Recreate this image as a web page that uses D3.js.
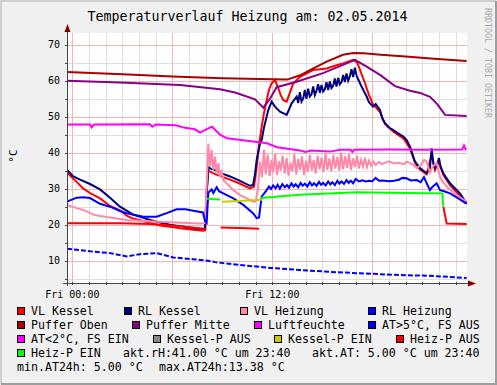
<!DOCTYPE html>
<html><head><meta charset="utf-8">
<script src="https://cdn.jsdelivr.net/npm/d3@7"></script>
<style>body{margin:0;background:#f0f0f0}svg{display:block}text{font-family:"DejaVu Sans Mono",monospace}</style>
</head><body><svg id="c" width="497" height="385"></svg>
<script>
const title = "Temperaturverlauf Heizung am: 02.05.2014";
const yLabel = "°C";
const watermark = "RRDTOOL / TOBI OETIKER";
const yTicks = [10,20,30,40,50,60,70];
const xTickHours = [0,12];
const xTickLabels = ["Fri 00:00","Fri 12:00"];
// time in hours since Fri 00:00, value in °C
const vlKessel = [[-0.32,34.5],[0.0,33.0],[0.26,31.9],[0.66,30.0],[1.06,28.8],[1.66,27.3],[2.26,25.2],[2.86,24.0],[3.26,22.5],[3.64,21.7],[4.26,21.0],[4.66,20.5],[5.26,19.8],[5.86,19.4],[6.46,19.0],[7.26,18.6],[7.84,18.3],[7.96,18.4],[8.06,30],[8.16,35.0],[8.5,34.2],[9.0,33.3],[9.46,32.5],[10.0,31.5],[10.66,30.1],[10.9,30.5],[11.06,36],[11.2,42],[11.36,47.2],[11.5,51],[11.66,54.6],[11.8,57.5],[11.96,59.3],[12.16,60.2],[12.36,57.9],[12.5,56],[12.66,54.6],[12.86,54.2],[13.0,56],[13.26,59.3],[13.66,61.1],[14.46,63.0],[15.26,63.4],[15.8,64.2],[16.24,64.8],[16.86,65.8],[17.1,65],[17.26,63.0],[17.56,59.3],[17.8,56],[18.04,53.5],[18.46,51.3],[18.76,48],[19.26,45.8],[19.86,44.0],[20.26,41.2],[20.56,37.2],[20.86,35.3],[21.26,34.0],[21.56,39.5],[21.76,35.2],[22.0,37.5],[22.26,33.8],[22.66,31.0],[23.06,29.0],[23.46,27],[23.66,26.2]];
const rlKessel = [[-0.32,35.2],[0.06,33.4],[0.46,32.5],[1.06,31.3],[1.66,29.8],[2.26,27.5],[2.86,25.0],[3.26,23.9],[3.64,22.8],[4.26,21.9],[4.66,21.3],[5.26,20.6],[5.86,20.0],[6.46,19.6],[7.26,19.1],[7.84,18.8],[7.96,19],[8.06,28],[8.16,36.0],[8.3,35.5],[8.5,35.3],[9.0,34.2],[9.46,33.4],[10.0,32.3],[10.66,30.8],[10.84,31],[10.96,34],[11.06,38],[11.26,42.6],[11.36,43.5],[11.5,47],[11.76,51.9],[11.96,54.2],[12.16,52.8],[12.46,51.4],[12.86,50.5],[13.16,53.7],[13.46,55.6],[13.55,53.8],[13.65,56.8],[13.75,54.2],[13.85,55.0],[13.95,57.4],[14.05,55.0],[14.15,57.8],[14.25,55.6],[14.35,56.2],[14.45,58.4],[14.55,56.0],[14.65,57.2],[14.75,59.0],[14.85,56.6],[14.95,58.8],[15.05,57.0],[15.15,57.6],[15.25,59.6],[15.35,57.4],[15.45,59.8],[15.55,58.0],[15.65,58.6],[15.75,60.6],[15.85,58.4],[15.95,60.8],[16.05,59.0],[16.15,59.6],[16.25,61.6],[16.35,59.6],[16.45,62.0],[16.55,60.0],[16.65,61.2],[16.75,63.2],[16.85,61.0],[16.95,63.6],[17.05,61.5],[17.15,60.4],[17.26,59.3],[17.36,58.3],[17.5,57],[17.66,55.6],[17.8,54],[18.04,52.8],[18.2,53.5],[18.46,51.9],[18.6,49.5],[18.76,48.2],[19.0,47],[19.26,46.3],[19.5,45.5],[19.86,44.5],[20.06,43.5],[20.26,41.7],[20.56,37.5],[20.86,35.7],[21.26,34.3],[21.45,35.5],[21.56,41.2],[21.66,37],[21.76,35.7],[21.9,37],[22.0,38.5],[22.1,36],[22.26,34.3],[22.66,31.5],[23.26,28.7],[23.66,25.9]];
const vlHeizung = [[-0.32,25.5],[0.26,24.6],[0.66,24.1],[1.26,22.8],[1.66,22.4],[2.86,21.6],[3.26,21.3],[4.26,21.0],[5.26,20.8],[6.26,20.6],[7.26,20.4],[7.84,20.3],[7.96,20.5],[8.1,35],[8.16,42.5],[8.26,36.1],[8.36,40.8],[8.46,35.2],[8.56,38.9],[8.66,34.3],[8.76,37.1],[8.86,33.3],[8.96,35.2],[9.06,32.4],[9.26,31.5],[9.66,29.6],[10.06,28.2],[10.66,26.9],[10.84,26.4],[11.0,26.5],[11.14,30],[11.26,37.5],[11.38,33.2],[11.5,40.8],[11.6,34],[11.72,39.5],[11.84,33.5],[11.95,38],[12.05,34.5],[12.17,39.8],[12.28,33.8],[12.4,37.6],[12.5,35],[12.62,39.2],[12.74,34.2],[12.86,38.6],[12.97,33.6],[13.08,37.2],[13.2,34.8],[13.32,39.6],[13.44,34],[13.55,38.2],[13.67,35.2],[13.78,39],[13.9,33.8],[14.02,37.8],[14.13,34.6],[14.25,39.4],[14.37,35],[14.48,38],[14.6,34.2],[14.72,39.2],[14.84,35.4],[14.95,38.6],[15.07,34.6],[15.19,39.8],[15.3,35.2],[15.42,38.4],[15.54,34.8],[15.66,39.4],[15.78,35.6],[15.9,38.8],[16.02,35],[16.13,40],[16.25,35.4],[16.37,39],[16.49,35.8],[16.6,39.6],[16.72,35.2],[16.84,38.4],[16.96,36],[17.08,39.2],[17.2,35.6],[17.32,38],[17.44,36.2],[17.56,38.6],[17.68,36],[17.8,37.8],[17.92,36.4],[18.05,37.6],[18.2,36.6],[18.4,37.4],[18.6,36.8],[18.8,37.3],[19.0,37.6],[19.3,37],[19.6,37.2],[19.9,36.8],[20.06,37.5],[20.26,37.1],[20.5,36.5],[20.66,35.7],[20.9,36.5],[21.1,38],[21.26,37.5],[21.46,34.4],[21.6,36],[21.86,37.1],[22.06,33.3],[22.2,32],[22.46,30.6],[22.7,29.5],[23.06,28.2],[23.46,27],[23.66,26.4]];
const rlHeizung = [[-0.32,26.4],[0.26,27.5],[0.66,27.6],[1.06,27.4],[1.66,25.8],[2.26,25.0],[2.86,23.8],[3.26,23.2],[4.26,22.2],[5.06,22.2],[5.66,23.2],[6.26,24.3],[6.8,24.3],[7.26,23.9],[7.84,23.4],[7.96,21],[8.06,20.5],[8.16,28.9],[8.36,29.8],[8.46,28.8],[8.66,30.4],[8.8,29.3],[9.06,28.7],[9.66,27.3],[10.26,25.5],[10.84,23.2],[11.06,21.8],[11.2,22],[11.36,27.8],[11.66,29.6],[11.8,30.6],[11.92,29.9],[12.05,30.9],[12.2,30.1],[12.32,31.1],[12.45,30.0],[12.6,31.3],[12.75,30.4],[12.88,31.0],[13.0,30.3],[13.15,31.5],[13.28,30.6],[13.4,31.2],[13.55,30.4],[13.7,31.6],[13.82,30.8],[13.95,31.4],[14.1,30.6],[14.25,31.8],[14.38,30.9],[14.5,31.5],[14.65,30.8],[14.8,31.9],[14.92,31.1],[15.05,31.6],[15.2,30.9],[15.35,32.0],[15.48,31.2],[15.6,31.8],[15.75,31.0],[15.9,32.2],[16.02,31.4],[16.15,32.0],[16.3,31.3],[16.45,32.4],[16.58,31.6],[16.7,32.2],[16.85,31.5],[17.0,32.7],[17.2,32],[17.4,32.3],[17.6,32.0],[17.8,32.2],[18.0,32.1],[18.2,33],[18.4,32.2],[18.6,32.3],[19.0,32.1],[19.3,32.2],[19.6,32.5],[19.8,33],[20.06,32.9],[20.3,32.3],[20.66,32.4],[20.9,31.8],[21.1,33.2],[21.26,31.5],[21.46,29.6],[21.6,30.5],[21.86,31.5],[22.06,29.6],[22.3,29.3],[22.66,28.7],[23.06,27.6],[23.46,26.4],[23.66,25.8]];
const pufferOben = [[-0.32,62.4],[3,61.8],[6,61.2],[9,60.7],[12.0,60.4],[12.9,60.3],[13.66,61.5],[14.46,63.4],[15.26,65.3],[16.24,67.2],[16.86,67.7],[17.5,67.6],[18.5,67.2],[20,66.7],[21.5,66.2],[23.66,65.5]];
const pufferMitte = [[-0.32,60.0],[2.86,59.5],[6.46,58.8],[8.86,57.6],[9.76,56.7],[10.96,54.8],[11.46,52.5],[11.86,55],[12.26,58.2],[13.46,59.7],[15.04,62.1],[16.24,64.4],[16.96,65.8],[17.66,63.9],[18.46,61.6],[19.36,58.5],[20.26,57.2],[20.86,56.6],[21.46,55.5],[21.9,53.5],[22.36,50.5],[23.66,50.2]];
const luftfeuchte = [[-0.32,47.8],[1.06,47.8],[1.15,47.0],[1.3,47.8],[4.66,47.9],[4.8,47.2],[5.0,47.8],[6.2,47.6],[6.76,46.9],[7.36,46.5],[7.66,45.6],[8.1,46.6],[8.38,47.2],[8.86,45],[9.28,44],[10.48,43.3],[11.68,42.6],[12.28,41.5],[13.66,40.6],[14.0,40.2],[14.3,40.6],[15.46,40.3],[16.06,40.8],[16.7,40.8],[16.8,40.2],[16.9,40.8],[19.0,40.9],[21.0,40.8],[23.4,40.9],[23.5,42],[23.6,40.9],[23.66,40.9]];
const atWarm = [[-0.32,13.3],[1.26,12.5],[2.26,12.1],[3.26,11.2],[4.06,11.8],[5.06,12.1],[6.06,10.9],[7.24,10.4],[8.14,10.0],[8.56,9.6],[10.06,8.8],[11.86,8.0],[13.66,7.4],[15.46,6.9],[17.26,6.5],[19.66,6.0],[21.46,5.8],[23.66,5.2]];
const atCold = [];
const kesselPAus = [];
const kesselPEin = [[8.98,26.4],[10.0,26.6],[11.38,26.9]];
const heizPAus = [[-0.32,20.4],[2.86,20.4],[4.66,20.2],[6.46,19.6],[7.84,18.9],[8.05,18.9],[8.06,null],[8.9,null],[8.9,19.2],[10.5,19.0],[11.2,18.9],[11.25,null],[22.2,null],[22.26,25],[22.46,20.3],[23.66,20.2]];
const heizPEin = [[8.08,27.2],[8.86,27.0],[8.9,null],[11.28,null],[11.3,27.4],[13.66,28.3],[17.06,29.0],[20,28.8],[22.2,28.7],[22.26,25]];
const seriesNames = ["VL Kessel","RL Kessel","VL Heizung","RL Heizung","Puffer Oben","Puffer Mitte","Luftfeuchte","AT>5°C, FS AUS","AT<2°C, FS EIN","Kessel-P AUS","Kessel-P EIN","Heiz-P AUS","Heiz-P EIN"];
const seriesData = [vlKessel,rlKessel,vlHeizung,rlHeizung,pufferOben,pufferMitte,luftfeuchte,atWarm,atCold,kesselPAus,kesselPEin,heizPAus,heizPEin];
const seriesColors = ["#ff0000","#000080","#ff88aa","#0000ff","#aa0000","#880088","#ff00ff","#0000ff","#ff00ff","#888888","#cccc00","#ff0000","#00ff00"];
const infoTexts = ["akt.rH:41.00 °C um 23:40","akt.AT: 5.00 °C um 23:40","min.AT24h: 5.00 °C","max.AT24h:13.38 °C"];

const W=497,H=385, L=67, R=467, T=33, B=283;
const svg=d3.select("#c");
const x=d3.scaleLinear().domain([-0.32,23.68]).range([L,R]);
const y=d3.scaleLinear().domain([3.8,73.25]).range([B,T]);

svg.append("rect").attr("width",W).attr("height",H).attr("fill","#f0f0f0");
svg.append("path").attr("d",`M1,${H-1}V1H${W-1}`).attr("stroke","#cfcfcf").attr("stroke-width",2).attr("fill","none");
svg.append("path").attr("d",`M1,${H-1}H${W-1}V1`).attr("stroke","#9e9e9e").attr("stroke-width",2).attr("fill","none");
svg.append("rect").attr("x",L).attr("y",T).attr("width",R-L).attr("height",B-T).attr("fill","#fff");

const g=svg.append("g");
for(let h=0;h<=23;h++){ if(h%6) g.append("line").attr("x1",Math.round(x(h))+0.5).attr("x2",Math.round(x(h))+0.5).attr("y1",T).attr("y2",B).attr("stroke","#dedede");}
for(let v=5;v<=70;v+=10){ g.append("line").attr("x1",L).attr("x2",R).attr("y1",Math.round(y(v))+0.5).attr("y2",Math.round(y(v))+0.5).attr("stroke","#dedede");}
for(let h=0;h<=23;h+=6){ g.append("line").attr("x1",Math.round(x(h))+0.5).attr("x2",Math.round(x(h))+0.5).attr("y1",T).attr("y2",B).attr("stroke","#f4b4b4");}
yTicks.forEach(v=>g.append("line").attr("x1",L).attr("x2",R).attr("y1",Math.round(y(v))+0.5).attr("y2",Math.round(y(v))+0.5).attr("stroke","#f4b4b4"));

svg.append("clipPath").attr("id","cp").append("rect").attr("x",L).attr("y",T).attr("width",R-L).attr("height",B-T);
const line=d3.line().defined(d=>d[1]!=null).x(d=>x(d[0])).y(d=>y(d[1]));
const lg=svg.append("g").attr("clip-path","url(#cp)");
seriesData.forEach((d,i)=>{ if(!d.length) return;
  const p=lg.append("path").attr("d",line(d)).attr("fill","none").attr("stroke",seriesColors[i]).attr("stroke-width",2).attr("stroke-linejoin","miter");
  if(i===7) p.attr("stroke-dasharray","5,2");
});

const ax=svg.append("g").attr("stroke","#444").attr("shape-rendering","crispEdges");
ax.append("line").attr("x1",L-4).attr("x2",R+3).attr("y1",B+0.5).attr("y2",B+0.5);
ax.append("line").attr("x1",L+0.5).attr("x2",L+0.5).attr("y1",B+3).attr("y2",T-3);
for(let h=0;h<=23;h++) ax.append("line").attr("x1",Math.round(x(h))+0.5).attr("x2",Math.round(x(h))+0.5).attr("y1",B-1).attr("y2",B+2);
for(let v=5;v<=70;v+=5) ax.append("line").attr("x1",L-2).attr("x2",L+1).attr("y1",Math.round(y(v))+0.5).attr("y2",Math.round(y(v))+0.5);
svg.append("path").attr("d",`M${L+0.5},${T-9}L${L-2.5},${T-1}L${L+3.5},${T-1}Z`).attr("fill","#800000");
svg.append("path").attr("d",`M${R+9},${B+0.5}L${R+1},${B-2.5}L${R+1},${B+3.5}Z`).attr("fill","#800000");

yTicks.forEach(v=>svg.append("text").attr("x",L-7).attr("y",y(v)+3.5).attr("text-anchor","end").attr("font-size",10).text(v));
xTickHours.forEach((h,i)=>svg.append("text").attr("x",x(h)).attr("y",B+15).attr("text-anchor","middle").attr("font-size",10).text(xTickLabels[i]));

svg.append("text").attr("x",247.5).attr("y",21).attr("text-anchor","middle").attr("font-size",13.3).text(title);
svg.append("text").attr("transform","translate(17,156) rotate(-90)").attr("text-anchor","middle").attr("font-size",11).text(yLabel);
svg.append("text").attr("transform","translate(485,8) rotate(90)").attr("font-size",8.3).attr("fill","#aaa").text(watermark);

// legend: [square x, row]
const legPos=[[17,0],[124,0],[240,0],[368,0],[17,1],[132,1],[254,1],[368,1],[17,2],[153,2],[274,2],[396,2],[17,3]];
const rowY=[311,325,339,353,367];
const fs=11.6;
seriesNames.forEach((n,i)=>{const [lx,r]=legPos[i];
  svg.append("rect").attr("x",lx+0.5).attr("y",rowY[r]-3.5).attr("width",7).attr("height",7).attr("fill",seriesColors[i]).attr("stroke","#000").attr("stroke-width",1);
  svg.append("text").attr("x",lx+14).attr("y",rowY[r]+4).attr("font-size",fs).text(n);
});
const infoPos=[[123,3],[312,3],[17,4],[159,4]];
infoTexts.forEach((t,i)=>svg.append("text").attr("x",infoPos[i][0]).attr("y",rowY[infoPos[i][1]]+4).attr("font-size",fs).text(t));
</script></body></html>
